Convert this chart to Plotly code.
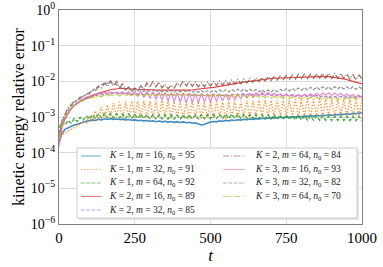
import plotly.graph_objects as go

# time samples
t = list(range(0, 1001, 10))

labels = [
    "<i>K</i> = 1, <i>m</i> = 16, <i>n</i><sub>0</sub> = 95",
    "<i>K</i> = 1, <i>m</i> = 32, <i>n</i><sub>0</sub> = 91",
    "<i>K</i> = 1, <i>m</i> = 64, <i>n</i><sub>0</sub> = 92",
    "<i>K</i> = 2, <i>m</i> = 16, <i>n</i><sub>0</sub> = 89",
    "<i>K</i> = 2, <i>m</i> = 32, <i>n</i><sub>0</sub> = 85",
    "<i>K</i> = 2, <i>m</i> = 64, <i>n</i><sub>0</sub> = 84",
    "<i>K</i> = 3, <i>m</i> = 16, <i>n</i><sub>0</sub> = 93",
    "<i>K</i> = 3, <i>m</i> = 32, <i>n</i><sub>0</sub> = 82",
    "<i>K</i> = 3, <i>m</i> = 64, <i>n</i><sub>0</sub> = 70",
]

k1_m16 = [2.0e-4, 3.5e-4, 4.5e-4, 5.0e-4, 5.6e-4, 6.0e-4, 6.3e-4, 6.8e-4, 7.1e-4, 7.6e-4,
          7.9e-4, 8.3e-4, 8.0e-4, 8.6e-4, 8.3e-4, 8.9e-4, 8.5e-4, 8.9e-4, 8.6e-4, 8.8e-4, 8.5e-4,
          8.7e-4, 8.3e-4, 8.5e-4, 8.1e-4, 8.3e-4, 7.9e-4, 8.1e-4, 7.8e-4, 8.0e-4, 7.6e-4,
          7.8e-4, 7.4e-4, 7.7e-4, 7.3e-4, 7.6e-4, 7.2e-4, 7.5e-4, 7.1e-4, 7.4e-4, 7.0e-4, 7.3e-4, 6.9e-4, 7.1e-4, 6.7e-4, 6.9e-4,
          6.4e-4, 6.0e-4, 6.3e-4, 6.8e-4, 7.2e-4,
          7.5e-4, 7.3e-4, 7.8e-4, 7.6e-4, 8.0e-4, 7.8e-4, 8.2e-4, 8.0e-4, 8.4e-4, 8.2e-4, 8.6e-4, 8.4e-4, 8.8e-4,
          8.6e-4, 9.0e-4, 8.8e-4, 9.2e-4, 9.0e-4, 9.4e-4, 9.2e-4, 9.6e-4, 9.4e-4, 9.8e-4, 9.6e-4, 1.0e-3,
          9.8e-4, 1.02e-3, 1.0e-3, 1.04e-3, 1.02e-3, 1.06e-3, 1.04e-3, 1.08e-3, 1.06e-3, 1.1e-3, 1.08e-3, 1.12e-3,
          1.1e-3, 1.15e-3, 1.12e-3, 1.18e-3, 1.15e-3, 1.2e-3, 1.18e-3, 1.23e-3, 1.2e-3, 1.26e-3, 1.24e-3, 1.3e-3, 1.32e-3]

k1_m32 = [2.5e-4, 3.2e-4, 3.6e-4, 4.0e-4, 4.5e-4, 5.0e-4, 5.6e-4, 6.3e-4, 7.5e-4, 6.8e-4,
          1.1e-3, 7.5e-4, 1.5e-3, 8.5e-4, 1.9e-3, 9.0e-4, 2.2e-3, 9.5e-4, 2.5e-3, 1.0e-3, 2.6e-3,
          9.5e-4, 2.7e-3, 1.0e-3, 2.8e-3, 9.5e-4, 2.8e-3, 1.0e-3, 2.9e-3, 9.5e-4, 2.8e-3,
          1.0e-3, 2.8e-3, 9.5e-4, 2.9e-3, 1.0e-3, 2.8e-3, 9.0e-4, 2.7e-3, 1.0e-3, 2.8e-3, 9.5e-4, 2.7e-3, 9.0e-4, 2.8e-3, 1.0e-3,
          2.7e-3, 8.5e-4, 2.6e-3, 9.5e-4, 2.8e-3,
          9.0e-4, 2.7e-3, 1.0e-3, 2.6e-3, 8.5e-4, 2.7e-3, 1.0e-3, 2.8e-3, 9.5e-4, 2.7e-3, 1.0e-3, 2.9e-3, 9.0e-4,
          2.8e-3, 1.05e-3, 2.9e-3, 1.0e-3, 3.0e-3, 1.05e-3, 2.9e-3, 1.0e-3, 3.0e-3, 1.1e-3, 2.9e-3, 1.05e-3,
          3.0e-3, 1.1e-3, 3.1e-3, 1.05e-3, 3.0e-3, 1.1e-3, 3.2e-3, 1.0e-3, 3.1e-3, 1.1e-3, 3.2e-3, 1.05e-3,
          3.1e-3, 1.1e-3, 3.2e-3, 1.0e-3, 3.1e-3, 1.1e-3, 3.2e-3, 1.05e-3, 3.1e-3, 1.1e-3, 3.0e-3, 1.05e-3, 3.1e-3]

k1_m64 = [5.0e-4, 7.0e-4, 6.0e-4, 8.0e-4, 6.8e-4, 9.0e-4, 7.5e-4, 9.8e-4, 8.2e-4, 1.05e-3,
          8.8e-4, 1.15e-3, 9.2e-4, 1.2e-3, 9.5e-4, 1.25e-3, 9.6e-4, 1.25e-3, 9.5e-4, 1.22e-3, 9.4e-4,
          1.2e-3, 9.3e-4, 1.2e-3, 9.2e-4, 1.18e-3, 9.2e-4, 1.18e-3, 9.0e-4, 1.16e-3, 9.0e-4,
          1.15e-3, 8.9e-4, 1.15e-3, 8.9e-4, 1.14e-3, 8.8e-4, 1.14e-3, 8.8e-4, 1.13e-3, 8.8e-4, 1.13e-3, 8.8e-4, 1.13e-3, 8.9e-4, 1.14e-3,
          8.9e-4, 1.15e-3, 9.0e-4, 1.16e-3, 9.0e-4,
          1.16e-3, 9.1e-4, 1.17e-3, 9.1e-4, 1.18e-3, 9.2e-4, 1.18e-3, 9.2e-4, 1.19e-3, 9.2e-4, 1.19e-3, 9.2e-4, 1.18e-3,
          9.1e-4, 1.17e-3, 9.0e-4, 1.16e-3, 8.9e-4, 1.15e-3, 8.8e-4, 1.14e-3, 8.7e-4, 1.13e-3, 8.6e-4, 1.12e-3,
          8.5e-4, 1.1e-3, 8.4e-4, 1.09e-3, 8.3e-4, 1.08e-3, 8.2e-4, 1.07e-3, 8.2e-4, 1.06e-3, 8.1e-4, 1.06e-3,
          8.1e-4, 1.05e-3, 8.0e-4, 1.05e-3, 8.0e-4, 1.05e-3, 8.0e-4, 1.04e-3, 7.9e-4, 1.04e-3, 7.9e-4, 1.04e-3, 8.0e-4]

k2_m16 = [3.0e-4, 6.0e-4, 9.0e-4, 1.3e-3, 1.7e-3, 2.1e-3, 2.5e-3, 2.8e-3, 3.1e-3, 3.4e-3,
          3.7e-3, 4.0e-3, 4.3e-3, 4.6e-3, 4.9e-3, 5.2e-3, 5.5e-3, 5.8e-3, 6.0e-3, 6.2e-3, 6.3e-3,
          6.3e-3, 6.3e-3, 6.2e-3, 6.2e-3, 6.1e-3, 6.0e-3, 6.0e-3, 5.9e-3, 5.9e-3, 5.8e-3,
          5.8e-3, 5.7e-3, 5.7e-3, 5.6e-3, 5.6e-3, 5.5e-3, 5.5e-3, 5.5e-3, 5.5e-3, 5.5e-3, 5.6e-3, 5.6e-3, 5.7e-3, 5.8e-3, 5.9e-3,
          6.0e-3, 6.1e-3, 6.2e-3, 6.4e-3, 6.6e-3,
          6.8e-3, 7.0e-3, 7.2e-3, 7.4e-3, 7.7e-3, 8.0e-3, 8.3e-3, 8.6e-3, 8.9e-3, 9.2e-3, 9.5e-3, 9.8e-3, 1.01e-2,
          1.04e-2, 1.07e-2, 1.1e-2, 1.13e-2, 1.16e-2, 1.18e-2, 1.2e-2, 1.22e-2, 1.23e-2, 1.24e-2, 1.25e-2, 1.26e-2,
          1.31e-2, 1.32e-2, 1.33e-2, 1.34e-2, 1.35e-2, 1.36e-2, 1.37e-2, 1.38e-2, 1.39e-2, 1.4e-2, 1.4e-2, 1.39e-2,
          1.38e-2, 1.36e-2, 1.33e-2, 1.3e-2, 1.26e-2, 1.22e-2, 1.17e-2, 1.12e-2, 1.07e-2, 1.02e-2, 9.6e-3, 9.0e-3, 8.5e-3]

k2_m32 = [2.0e-4, 5.5e-4, 9.5e-4, 1.35e-3, 1.7e-3, 2.1e-3, 2.4e-3, 2.7e-3, 3.0e-3, 3.3e-3,
          3.5e-3, 3.8e-3, 3.9e-3, 4.2e-3, 4.2e-3, 4.5e-3, 4.4e-3, 4.7e-3, 4.5e-3, 4.7e-3, 4.5e-3,
          4.7e-3, 4.4e-3, 4.6e-3, 4.3e-3, 4.6e-3, 4.3e-3, 4.5e-3, 4.2e-3, 4.5e-3, 4.2e-3,
          4.5e-3, 4.2e-3, 4.5e-3, 4.2e-3, 4.4e-3, 4.1e-3, 4.4e-3, 4.1e-3, 4.4e-3, 4.1e-3, 4.4e-3, 4.1e-3, 4.4e-3, 4.1e-3, 4.3e-3,
          4.0e-3, 4.3e-3, 4.0e-3, 4.3e-3, 4.0e-3,
          4.3e-3, 4.0e-3, 4.3e-3, 4.0e-3, 4.3e-3, 4.0e-3, 4.4e-3, 4.1e-3, 4.4e-3, 4.1e-3, 4.5e-3, 4.2e-3, 4.5e-3,
          4.2e-3, 4.5e-3, 4.1e-3, 4.4e-3, 4.1e-3, 4.4e-3, 4.0e-3, 4.3e-3, 4.0e-3, 4.3e-3, 3.9e-3, 4.2e-3,
          3.9e-3, 4.2e-3, 3.8e-3, 4.1e-3, 3.8e-3, 4.1e-3, 3.7e-3, 4.0e-3, 3.7e-3, 4.0e-3, 3.6e-3, 3.9e-3,
          3.6e-3, 3.9e-3, 3.5e-3, 3.8e-3, 3.5e-3, 3.8e-3, 3.5e-3, 3.8e-3, 3.5e-3, 3.8e-3, 3.5e-3, 3.8e-3, 3.6e-3]

k2_m64 = [3.0e-4, 8.0e-4, 1.2e-3, 1.8e-3, 2.2e-3, 2.8e-3, 3.0e-3, 3.6e-3, 3.7e-3, 4.4e-3,
          4.5e-3, 5.6e-3, 5.5e-3, 7.0e-3, 6.5e-3, 8.8e-3, 7.2e-3, 1.05e-2, 7.5e-3, 1.0e-2, 6.8e-3,
          8.5e-3, 5.8e-3, 7.0e-3, 5.2e-3, 6.5e-3, 5.6e-3, 7.5e-3, 6.0e-3, 9.0e-3, 6.8e-3,
          1.0e-2, 7.0e-3, 9.5e-3, 6.5e-3, 8.2e-3, 6.2e-3, 7.8e-3, 6.5e-3, 9.0e-3, 7.2e-3, 1.05e-2, 7.5e-3, 1.0e-2, 7.2e-3, 9.5e-3,
          7.0e-3, 9.2e-3, 7.0e-3, 9.5e-3, 7.4e-3,
          9.8e-3, 7.6e-3, 1.02e-2, 7.8e-3, 1.05e-2, 8.0e-3, 1.08e-2, 8.3e-3, 1.12e-2, 8.6e-3, 1.15e-2, 9.0e-3, 1.2e-2,
          9.4e-3, 1.25e-2, 9.8e-3, 1.3e-2, 1.02e-2, 1.35e-2, 1.05e-2, 1.4e-2, 1.08e-2, 1.42e-2, 1.1e-2, 1.45e-2,
          1.12e-2, 1.5e-2, 1.15e-2, 1.55e-2, 1.18e-2, 1.6e-2, 1.2e-2, 1.6e-2, 1.2e-2, 1.62e-2, 1.22e-2, 1.65e-2,
          1.22e-2, 1.65e-2, 1.2e-2, 1.7e-2, 1.22e-2, 1.65e-2, 1.2e-2, 1.6e-2, 1.15e-2, 1.55e-2, 1.1e-2, 1.5e-2, 1.2e-2]

k3_m16 = [1.5e-4, 5.0e-4, 9.0e-4, 1.3e-3, 1.7e-3, 2.1e-3, 2.5e-3, 2.9e-3, 3.2e-3, 3.6e-3,
          3.8e-3, 4.2e-3, 4.3e-3, 4.6e-3, 4.6e-3, 4.9e-3, 4.7e-3, 5.0e-3, 4.7e-3, 5.0e-3, 4.6e-3,
          5.1e-3, 4.4e-3, 5.2e-3, 4.0e-3, 5.3e-3, 3.8e-3, 5.4e-3, 3.5e-3, 5.3e-3, 3.3e-3,
          5.2e-3, 3.1e-3, 5.0e-3, 3.0e-3, 4.9e-3, 2.8e-3, 4.8e-3, 2.7e-3, 4.8e-3, 2.6e-3, 4.7e-3, 2.5e-3, 4.7e-3, 2.5e-3, 4.6e-3,
          2.5e-3, 4.6e-3, 2.6e-3, 4.5e-3, 2.6e-3,
          4.5e-3, 2.7e-3, 4.4e-3, 2.8e-3, 4.4e-3, 2.9e-3, 4.3e-3, 3.0e-3, 4.3e-3, 3.2e-3, 4.4e-3, 3.4e-3, 4.6e-3,
          3.6e-3, 4.8e-3, 3.8e-3, 5.0e-3, 4.0e-3, 4.9e-3, 4.0e-3, 4.7e-3, 3.9e-3, 4.5e-3, 3.8e-3, 4.4e-3,
          3.8e-3, 4.3e-3, 3.7e-3, 4.3e-3, 3.7e-3, 4.4e-3, 3.8e-3, 4.5e-3, 3.9e-3, 4.6e-3, 4.0e-3, 4.7e-3,
          4.1e-3, 4.8e-3, 4.1e-3, 4.7e-3, 4.0e-3, 4.6e-3, 3.9e-3, 4.4e-3, 3.8e-3, 4.2e-3, 3.7e-3, 4.1e-3, 3.6e-3]

k3_m32 = [3.0e-4, 7.0e-4, 1.1e-3, 1.6e-3, 2.0e-3, 2.5e-3, 2.9e-3, 3.3e-3, 3.8e-3, 4.2e-3,
          4.8e-3, 5.5e-3, 6.3e-3, 7.5e-3, 8.0e-3, 9.2e-3, 8.8e-3, 9.5e-3, 8.0e-3, 8.2e-3, 6.8e-3,
          6.5e-3, 5.8e-3, 6.2e-3, 5.5e-3, 6.0e-3, 5.3e-3, 5.9e-3, 5.2e-3, 5.8e-3, 5.2e-3,
          5.8e-3, 5.1e-3, 5.7e-3, 5.0e-3, 5.6e-3, 5.0e-3, 5.6e-3, 4.9e-3, 5.6e-3, 5.0e-3, 5.7e-3, 5.0e-3, 5.6e-3, 4.9e-3, 5.5e-3,
          4.9e-3, 5.5e-3, 4.8e-3, 5.5e-3, 4.9e-3,
          5.6e-3, 5.0e-3, 5.7e-3, 5.0e-3, 5.8e-3, 5.1e-3, 5.9e-3, 5.2e-3, 6.0e-3, 5.3e-3, 6.1e-3, 5.3e-3, 6.0e-3,
          5.2e-3, 5.9e-3, 5.1e-3, 5.8e-3, 5.0e-3, 5.7e-3, 5.0e-3, 5.8e-3, 5.1e-3, 6.0e-3, 5.3e-3, 6.2e-3,
          5.4e-3, 6.3e-3, 5.5e-3, 6.5e-3, 5.6e-3, 6.6e-3, 5.7e-3, 6.8e-3, 5.8e-3, 6.9e-3, 5.9e-3, 7.0e-3,
          6.0e-3, 7.0e-3, 6.0e-3, 7.1e-3, 6.1e-3, 7.1e-3, 6.1e-3, 7.0e-3, 6.0e-3, 7.0e-3, 6.0e-3, 6.9e-3, 6.2e-3]

k3_m64 = [2.5e-4, 6.0e-4, 1.0e-3, 1.4e-3, 1.8e-3, 2.1e-3, 2.4e-3, 2.7e-3, 2.9e-3, 3.1e-3,
          3.2e-3, 3.6e-3, 3.5e-3, 3.9e-3, 3.7e-3, 4.2e-3, 3.8e-3, 4.3e-3, 3.9e-3, 4.4e-3, 3.9e-3,
          4.4e-3, 3.9e-3, 4.4e-3, 3.9e-3, 4.4e-3, 3.9e-3, 4.4e-3, 3.9e-3, 4.4e-3, 3.9e-3,
          4.4e-3, 3.9e-3, 4.5e-3, 4.0e-3, 4.5e-3, 4.0e-3, 4.5e-3, 4.0e-3, 4.5e-3, 4.0e-3, 4.5e-3, 4.0e-3, 4.4e-3, 3.9e-3, 4.4e-3,
          3.9e-3, 4.4e-3, 3.9e-3, 4.3e-3, 3.8e-3,
          4.3e-3, 3.8e-3, 4.3e-3, 3.8e-3, 4.2e-3, 3.7e-3, 4.2e-3, 3.7e-3, 4.2e-3, 3.7e-3, 4.1e-3, 3.6e-3, 4.1e-3,
          3.6e-3, 4.0e-3, 3.5e-3, 3.9e-3, 3.5e-3, 3.9e-3, 3.4e-3, 3.8e-3, 3.4e-3, 3.8e-3, 3.3e-3, 3.7e-3,
          3.3e-3, 3.7e-3, 3.3e-3, 3.6e-3, 3.2e-3, 3.6e-3, 3.2e-3, 3.6e-3, 3.2e-3, 3.6e-3, 3.2e-3, 3.5e-3,
          3.1e-3, 3.5e-3, 3.1e-3, 3.5e-3, 3.1e-3, 3.5e-3, 3.1e-3, 3.5e-3, 3.1e-3, 3.5e-3, 3.1e-3, 3.5e-3, 3.2e-3]

series = [k1_m16, k1_m32, k1_m64, k2_m16, k2_m32, k2_m64, k3_m16, k3_m32, k3_m64]
colors = ["#1f77b4", "#ff7f0e", "#2ca02c", "#d62728", "#9467bd",
          "#8c564b", "#e377c2", "#7f7f7f", "#bcbd22"]
SOLID, DOT, DASH, DASHDOT = "solid", "1.3px,1.7px", "3.7px,1.6px", "6.4px,1.6px,1px,1.6px"
dashes = [SOLID, DOT, DASH, SOLID, DASH, DASHDOT, SOLID, DASH, DASHDOT]
widths = [1.6, 1.4, 1.4, 1.2, 1.2, 1.2, 1.2, 1.2, 1.2]

yticks = [1e-6, 1e-5, 1e-4, 1e-3, 1e-2, 1e-1, 1e0]
yticktext = ["10<sup>\u22126</sup>", "10<sup>\u22125</sup>", "10<sup>\u22124</sup>",
             "10<sup>\u22123</sup>", "10<sup>\u22122</sup>", "10<sup>\u22121</sup>", "10<sup>0</sup>"]
xticks = [0, 250, 500, 750, 1000]

FONT = "Liberation Serif"

fig = go.Figure()
for y, name, c, d, w in zip(series, labels, colors, dashes, widths):
    fig.add_trace(go.Scatter(x=t, y=y, mode="lines", name=name, showlegend=False,
                             line=dict(color=c, dash=d, width=w), opacity=0.85))

# hand-built legend (paper coordinates): 2 columns, 5 + 4 rows
box = dict(x0=0.0594, x1=0.9835, y0=0.028, y1=0.355)
row_y = [0.3178, 0.2547, 0.1916, 0.1285, 0.0654]
cols = [dict(l0=0.0726, l1=0.1386, tx=0.1584), dict(l0=0.5413, l1=0.6139, tx=0.6403)]
shapes = [
    dict(type="rect", xref="paper", yref="paper", x0=box["x0"] + 0.006, x1=box["x1"] + 0.006,
         y0=box["y0"] - 0.009, y1=box["y1"] - 0.009, fillcolor="#e4e4e4", line=dict(width=0),
         layer="above"),
    dict(type="rect", xref="paper", yref="paper", x0=box["x0"], x1=box["x1"],
         y0=box["y0"], y1=box["y1"], fillcolor="white", line=dict(color="#cccccc", width=1),
         layer="above"),
]
annotations = []
for i, (name, c, d) in enumerate(zip(labels, colors, dashes)):
    col = cols[0] if i < 5 else cols[1]
    ry = row_y[i] if i < 5 else row_y[i - 5]
    shapes.append(dict(type="line", xref="paper", yref="paper", x0=col["l0"], x1=col["l1"],
                       y0=ry, y1=ry, line=dict(color=c, dash=d, width=1.1), opacity=0.6,
                       layer="above"))
    annotations.append(dict(xref="paper", yref="paper", x=col["tx"], y=ry, text=name,
                            showarrow=False, xanchor="left", yanchor="middle",
                            font=dict(family=FONT, size=9.5, color="#222222")))

fig.update_layout(
    width=383, height=267,
    margin=dict(l=59, r=21, t=10, b=43, autoexpand=False),
    paper_bgcolor="white", plot_bgcolor="white",
    font=dict(family=FONT, size=15, color="black"),
    shapes=shapes, annotations=annotations,
    showlegend=False,
)
fig.update_xaxes(range=[0, 1000], tickvals=xticks, showgrid=True, gridcolor="#dddddd",
                 showline=True, linecolor="#808080", mirror=True, ticks="",
                 zeroline=False, automargin=False,
                 title=dict(text="<i>t</i>", standoff=0, font=dict(size=17)),
                 tickfont=dict(size=15))
fig.update_yaxes(type="log", range=[-6, 0], tickvals=yticks, ticktext=yticktext,
                 showgrid=True, gridcolor="#dddddd", showline=True, linecolor="#808080",
                 mirror=True, ticks="", zeroline=False, automargin=False,
                 title=dict(text="kinetic energy relative error", standoff=2, font=dict(size=16)),
                 tickfont=dict(size=14))

fig.write_html("out.html", config={"displayModeBar": False},
               post_script="document.body.style.margin='0';document.body.style.overflow='hidden';")
